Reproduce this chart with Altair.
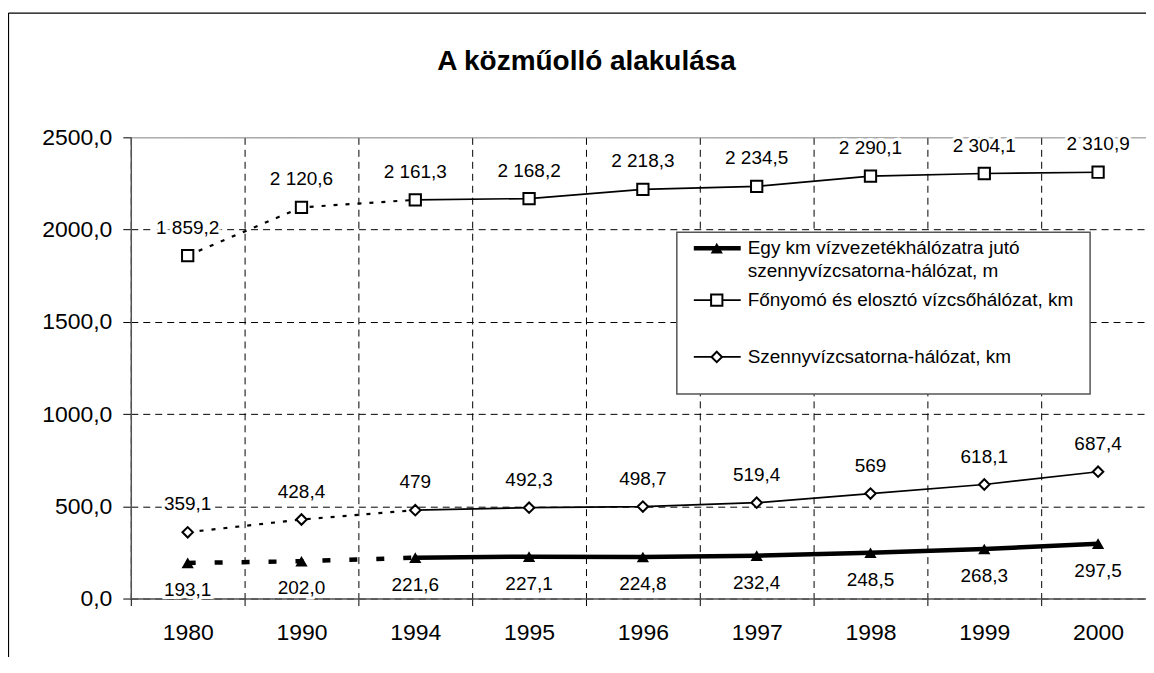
import altair as alt
import pandas as pd

# ---- data ----
years = ["1980", "1990", "1994", "1995", "1996", "1997", "1998", "1999", "2000"]
meter_per_km = [193.1, 202.0, 221.6, 227.1, 224.8, 232.4, 248.5, 268.3, 297.5]
water_km = [1859.2, 2120.6, 2161.3, 2168.2, 2218.3, 2234.5, 2290.1, 2304.1, 2310.9]
sewer_km = [359.1, 428.4, 479, 492.3, 498.7, 519.4, 569, 618.1, 687.4]
series_names = [
    "Egy km vízvezetékhálózatra jutó\nszennyvízcsatorna-hálózat, m",
    "Főnyomó és elosztó vízcsőhálózat, km",
    "Szennyvízcsatorna-hálózat, km",
]
y_ticks = [0, 500, 1000, 1500, 2000, 2500]
title_text = "A közműolló alakulása"


def fmt_one_decimal(v):
    return f"{v:.1f}".replace(".", ",")


def fmt_thousands(v):
    return f"{v:,.1f}".replace(",", " ").replace(".", ",")


def fmt_general(v):
    return f"{v:g}".replace(".", ",")


rows = []
for key, vals, fmt in [
    ("s1", meter_per_km, fmt_one_decimal),
    ("s2", water_km, fmt_thousands),
    ("s3", sewer_km, fmt_general),
]:
    for i, (yr, v) in enumerate(zip(years, vals)):
        rows.append({"year": yr, "idx": i, "series": key, "value": v, "label": fmt(v)})
df = pd.DataFrame(rows)
one = pd.DataFrame({"k": [0]})  # single row for decorations

FONT = "Liberation Sans"
W, H = 1026, 462

x_axis = alt.Axis(
    title=None, tickBand="extent", grid=True, gridDash=[7, 5], gridColor="#000000",
    gridWidth=1, ticks=True, tickSize=7, tickColor="#000000", domainColor="#555555",
    domainWidth=1.5, labelFont=FONT, labelFontSize=23, labelColor="#000000",
    labelPadding=16, labelAngle=0,
)
y_axis = alt.Axis(
    title=None, values=y_ticks, grid=True,
    gridDash={"condition": {"test": "datum.value >= 2500", "value": [1, 0]}, "value": [7, 5]},
    gridColor={"condition": {"test": "datum.value >= 2500", "value": "#888888"}, "value": "#000000"},
    gridWidth=1, ticks=True, tickSize=8, tickColor="#000000", domainColor="#555555",
    domainWidth=1.5, labelFont=FONT, labelFontSize=23, labelColor="#000000", labelPadding=11,
    labelExpr="replace(format(datum.value, '.1f'), '.', ',')",
)

X = alt.X("year:N", sort=years, bandPosition=0.5,
          scale=alt.Scale(type="band", domain=years, paddingInner=0, paddingOuter=0),
          axis=x_axis)
Y = alt.Y("value:Q", scale=alt.Scale(domain=[0, 2500], nice=False, zero=True), axis=y_axis)

base = alt.Chart(df)
deco = alt.Chart(one)

layers = []

# outer frame (decoration)
layers.append(deco.mark_rule(color="#000000", strokeWidth=1.2).encode(
    x=alt.value(-122.5), y=alt.value(-124.5), y2=alt.value(H + 60)))
layers.append(deco.mark_rule(color="#000000", strokeWidth=1.2).encode(
    x=alt.value(-122.5), x2=alt.value(W + 10), y=alt.value(-124.5)))

styles = {
    "s1": dict(width=4.5, early_width=4.5, early_dash=[8, 19]),
    "s2": dict(width=1.7, early_width=2.2, early_dash=[4, 8]),
    "s3": dict(width=1.7, early_width=2.2, early_dash=[4, 8]),
}

for key, st in styles.items():
    early = base.transform_filter(f"datum.series == '{key}' && datum.idx <= 2")
    late = base.transform_filter(f"datum.series == '{key}' && datum.idx >= 2")
    layers.append(early.mark_line(color="#000000", strokeWidth=st["early_width"],
                                  strokeDash=st["early_dash"]).encode(x=X, y=Y))
    layers.append(late.mark_line(color="#000000", strokeWidth=st["width"]).encode(x=X, y=Y))

marker_specs = {
    "s1": dict(shape="triangle-up", filled=True, fill="#000000", size=150, strokeWidth=0),
    "s2": dict(shape="square", filled=True, fill="#ffffff", stroke="#000000", size=128, strokeWidth=2),
    "s3": dict(shape="diamond", filled=True, fill="#ffffff", stroke="#000000", size=110, strokeWidth=2),
}
for key, ms in marker_specs.items():
    sub = base.transform_filter(f"datum.series == '{key}'")
    layers.append(sub.mark_point(opacity=1, **ms).encode(x=X, y=Y))

label_dy = {"s1": 27, "s2": -28, "s3": -28}
for key, dy in label_dy.items():
    sub = base.transform_filter(f"datum.series == '{key}'")
    layers.append(sub.mark_text(font=FONT, fontSize=19, dy=dy, baseline="middle", align="center",
                                color="#ffffff", stroke="#ffffff", strokeWidth=6).encode(
        x=X, y=Y, text="label:N"))
    layers.append(sub.mark_text(font=FONT, fontSize=19, dy=dy, baseline="middle", align="center",
                                color="#000000").encode(x=X, y=Y, text="label:N"))

# title
layers.append(deco.mark_text(font=FONT, fontSize=28, fontWeight="bold", align="center",
                             baseline="alphabetic", color="#000000").encode(
    x=alt.value(456.5), y=alt.value(-67), text=alt.value(title_text)))

# custom legend
layers.append(deco.mark_rect(fill="#ffffff", stroke="#555555", strokeWidth=1.5).encode(
    x=alt.value(547), x2=alt.value(961), y=alt.value(95), y2=alt.value(257)))
legend_y = [111, 163, 220]
legend_widths = [4.5, 1.7, 1.7]
for i, key in enumerate(["s1", "s2", "s3"]):
    ly = legend_y[i]
    layers.append(deco.mark_rule(color="#000000", strokeWidth=legend_widths[i]).encode(
        x=alt.value(564), x2=alt.value(611), y=alt.value(ly)))
    layers.append(deco.mark_point(opacity=1, **marker_specs[key]).encode(
        x=alt.value(587), y=alt.value(ly)))
    for j, line in enumerate(series_names[i].split("\n")):
        layers.append(deco.mark_text(font=FONT, fontSize=19, align="left", baseline="middle",
                                     color="#000000").encode(
            x=alt.value(618), y=alt.value(ly + 23 * j), text=alt.value(line)))

chart = alt.layer(*layers).properties(
    width=W, height=H,
    autosize=alt.AutoSizeParams(type="none"),
    padding={"left": 123, "top": 129, "right": -9, "bottom": 58},
).configure_view(stroke=None).configure(background="#ffffff")

chart.save("out.html", embed_options={"renderer": "svg", "actions": False})
